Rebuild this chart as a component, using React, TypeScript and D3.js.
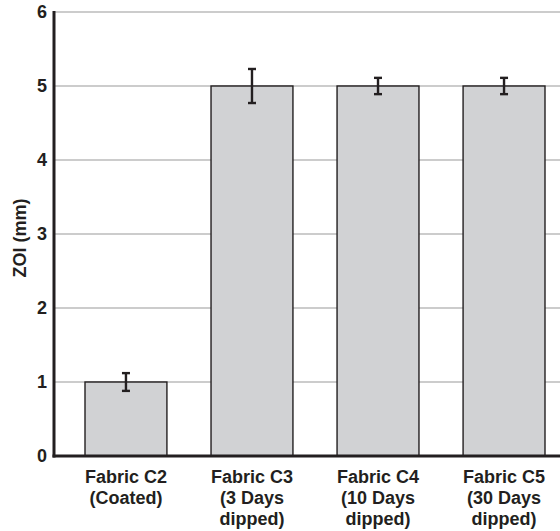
import React from "react";
import * as d3 from "d3";

const categories = ["C2", "C3", "C4", "C5"];
const labelLines = [
  ["Fabric C2", "(Coated)"],
  ["Fabric C3", "(3 Days", "dipped)"],
  ["Fabric C4", "(10 Days", "dipped)"],
  ["Fabric C5", "(30 Days", "dipped)"],
];
const values = [1, 5, 5, 5];
const errors = [0.12, 0.23, 0.11, 0.11];
const yTicks = [0, 1, 2, 3, 4, 5, 6];

const W = 560;
const H = 531;
const x0 = 54;
const y0 = 456;
const yTop = 12;

export default function App() {
  const x = d3
    .scaleBand<string>()
    .domain(categories)
    .range([x0, 576])
    .paddingInner(0.35)
    .paddingOuter(0.246);
  const y = d3.scaleLinear().domain([0, 6]).range([y0, yTop]);
  const font = "'Liberation Sans', Arial, sans-serif";
  const dark = "#231f20";
  return (
    <svg
      width={W}
      height={H}
      style={{ position: "absolute", left: 0, top: 0, background: "#fff" }}
      fontFamily={font}
    >
      {yTicks.slice(1).map((t) => (
        <line key={"g" + t} x1={x0} x2={W} y1={y(t)} y2={y(t)} stroke="#9a9a9a" strokeWidth={1.2} />
      ))}
      {categories.map((c, i) => (
        <rect
          key={"b" + c}
          x={x(c)!}
          y={y(values[i])}
          width={x.bandwidth()}
          height={y(0) - y(values[i])}
          fill="#d1d2d4"
          stroke={dark}
          strokeWidth={1.4}
        />
      ))}
      {categories.map((c, i) => {
        const cx = x(c)! + x.bandwidth() / 2;
        const top = y(values[i] + errors[i]);
        const bot = y(values[i] - errors[i]);
        return (
          <g key={"e" + c} stroke={dark} strokeWidth={2.4}>
            <line x1={cx} x2={cx} y1={top} y2={bot} />
            <line x1={cx - 4} x2={cx + 4} y1={top} y2={top} />
            <line x1={cx - 4} x2={cx + 4} y1={bot} y2={bot} />
          </g>
        );
      })}
      <line x1={x0} x2={x0} y1={yTop - 1} y2={y0 + 1.5} stroke={dark} strokeWidth={3} />
      <line x1={x0 - 1.5} x2={W} y1={y0} y2={y0} stroke={dark} strokeWidth={3} />
      {yTicks.map((t) => (
        <text
          key={"t" + t}
          x={47}
          y={y(t)}
          dy="0.36em"
          textAnchor="end"
          fontSize={18}
          fontWeight="bold"
          fill={dark}
        >
          {t}
        </text>
      ))}
      <text
        transform={`translate(26,238) rotate(-90)`}
        textAnchor="middle"
        fontSize={18}
        fontWeight="bold"
        fill={dark}
      >
        ZOI (mm)
      </text>
      {categories.map((c, i) => (
        <text
          key={"l" + c}
          x={x(c)! + x.bandwidth() / 2}
          textAnchor="middle"
          fontSize={18}
          fontWeight="bold"
          fill={dark}
        >
          {labelLines[i].map((ln, j) => (
            <tspan key={j} x={x(c)! + x.bandwidth() / 2} y={483 + j * 20.8}>
              {ln}
            </tspan>
          ))}
        </text>
      ))}
    </svg>
  );
}
